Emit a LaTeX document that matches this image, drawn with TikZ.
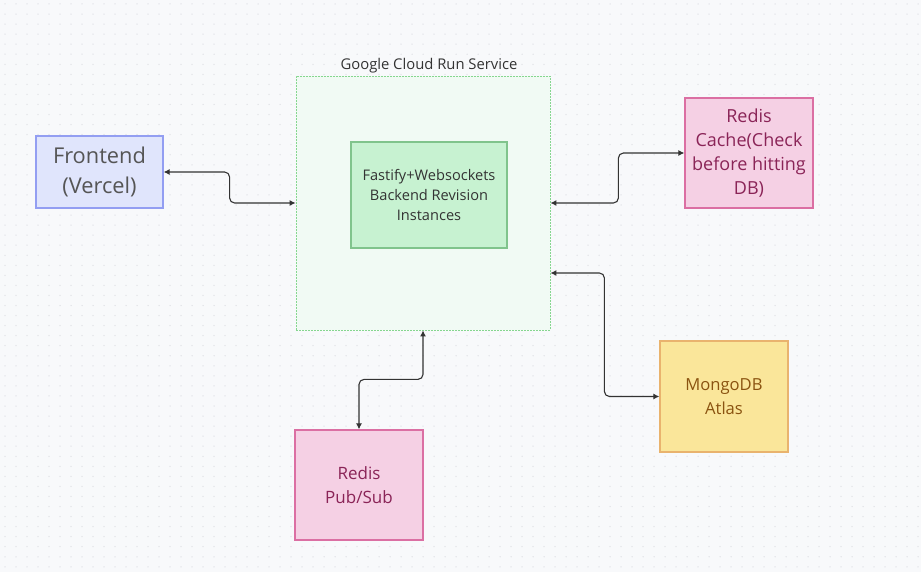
\documentclass[tikz,border=0pt]{standalone}
\usepackage{fontspec}
\setmainfont{Open Sans}
\usetikzlibrary{arrows.meta}
\definecolor{bgc}{HTML}{F8F9FB}
\definecolor{dotc}{HTML}{E1E2E7}
\definecolor{feFill}{HTML}{E0E5FC}
\definecolor{feDraw}{HTML}{939EF2}
\definecolor{feText}{HTML}{555555}
\definecolor{crFill}{HTML}{F1FAF4}
\definecolor{crDraw}{HTML}{86D68F}
\definecolor{inFill}{HTML}{C7F2D1}
\definecolor{inDraw}{HTML}{80C48C}
\definecolor{pkFill}{HTML}{F5D0E4}
\definecolor{pkDraw}{HTML}{DB6FA3}
\definecolor{pkText}{HTML}{8A2457}
\definecolor{ygFill}{HTML}{FAE69A}
\definecolor{ygDraw}{HTML}{E9B36E}
\definecolor{ygText}{HTML}{8A5310}
\definecolor{lnc}{HTML}{333333}
\tikzset{
  box/.style={rectangle, draw, line width=1.2pt, align=center, inner sep=0pt},
  conn/.style={draw=lnc, line width=1.1pt, rounded corners=5pt,
    {Latex[length=6pt,width=6pt]}-{Latex[length=6pt,width=6pt]}},
}
\begin{document}
\begin{tikzpicture}[x=1pt,y=-1pt]
\fill[bgc] (0,0) rectangle (921,572);
\useasboundingbox (0,0) rectangle (921,572);
\foreach \i in {0,...,83}{
  \foreach \j in {0,...,56}{
    \fill[dotc] (5+11*\i,4+10.05*\j) circle (0.75pt);
  }
}
% Cloud Run service
\node[box, draw=crDraw, fill=crFill, dash pattern=on 2pt off 1pt, line width=0.8pt,
  minimum width=254pt, minimum height=254pt] (cloud) at (423,203) {};
\node[font=\fontsize{14.8}{16}\selectfont, text=lnc, anchor=south] (cloudlbl) at (429,77) {Google Cloud Run Service};
\node[box, draw=inDraw, fill=inFill, minimum width=156pt, minimum height=106pt,
  font=\fontsize{14.6}{20}\selectfont, text=lnc] (inner) at (429,195)
  {Fastify+Websockets\\Backend Revision\\Instances};
% Frontend
\node[box, draw=feDraw, fill=feFill, minimum width=127pt, minimum height=72pt,
  font=\fontsize{21.8}{30}\selectfont, text=feText] (fe) at (99.5,172) {Frontend\\(Vercel)};
% Redis cache
\node[box, draw=pkDraw, fill=pkFill, minimum width=128pt, minimum height=110pt,
  font=\fontsize{18}{24}\selectfont, text=pkText] (rc) at (749,153)
  {Redis\\Cache(Check\\before hitting\\DB)};
% MongoDB
\node[box, draw=ygDraw, fill=ygFill, minimum width=128pt, minimum height=111pt,
  font=\fontsize{16.6}{24}\selectfont, text=ygText] (mg) at (724,396.5) {MongoDB\\Atlas};
% Redis PubSub
\node[box, draw=pkDraw, fill=pkFill, minimum width=128pt, minimum height=110pt,
  font=\fontsize{17}{24}\selectfont, text=pkText] (ps) at (359,485) {Redis\\Pub/Sub};
% connectors
\draw[conn] (fe.east) -- ++(66,0) |- (cloud.west);
\draw[conn] (cloud.east) -- ++(68,0) |- (rc.west);
\draw[conn] ([yshift=-70pt]cloud.east) -- ++(54,0) |- (mg.west);
\draw[conn] (cloud.south) -- ++(0,49) -| (ps.north);
\end{tikzpicture}
\end{document}
